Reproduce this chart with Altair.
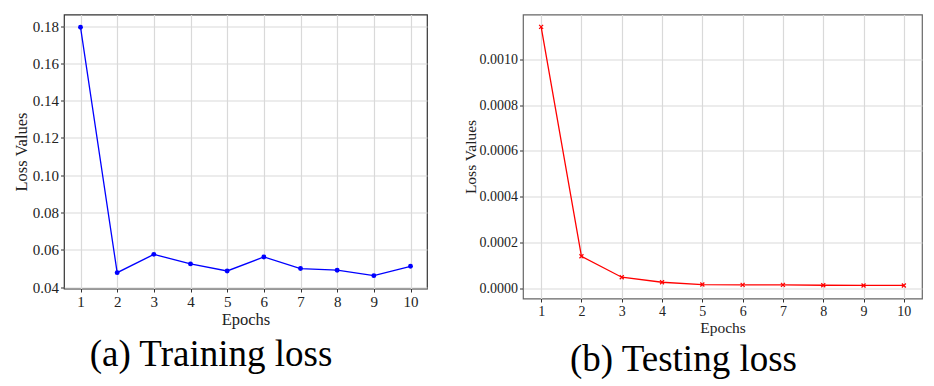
import altair as alt
import pandas as pd

epochs = [1, 2, 3, 4, 5, 6, 7, 8, 9, 10]
train_loss = [0.1794, 0.0478, 0.0576, 0.0525, 0.0487, 0.0562, 0.0500, 0.0491, 0.0462, 0.0512]
test_loss = [0.001142, 0.0001395, 0.000048, 0.000026, 0.000016, 0.0000145,
             0.0000145, 0.000013, 0.000012, 0.000012]
train_yticks = [0.04, 0.06, 0.08, 0.10, 0.12, 0.14, 0.16, 0.18]
test_yticks = [0.0, 0.0002, 0.0004, 0.0006, 0.0008, 0.0010]
x_label = "Epochs"
y_label = "Loss Values"
captions = ["(a) Training loss", "(b) Testing loss"]

FONT = "Liberation Serif"
df_train = pd.DataFrame({"epoch": epochs, "loss": train_loss})
df_test = pd.DataFrame({"epoch": epochs, "loss": test_loss})


def panel(df, color, yticks, yfmt, ydomain, width, height, fs_tick, fs_title,
          caption, cap_dx, cap_offset, frame_color, point_kwargs, ytitle_pad):
    x = alt.X("epoch:Q", scale=alt.Scale(domain=[0.55, 10.45], nice=False, zero=False),
              axis=alt.Axis(values=epochs, format="d", title=x_label, grid=True,
                            gridColor="#d9d9d9", gridWidth=1.2, domain=False,
                            tickSize=3.5, tickColor="#333", labelPadding=2,
                            labelFont=FONT, labelFontSize=fs_tick, labelColor="#222",
                            titleFont=FONT, titleFontSize=fs_title, titleFontWeight="normal",
                            titleColor="#222", titlePadding=2))
    y = alt.Y("loss:Q", scale=alt.Scale(domain=ydomain, nice=False, zero=False),
              axis=alt.Axis(values=yticks, format=yfmt, title=y_label, grid=True,
                            gridColor="#d9d9d9", gridWidth=1.2, domain=False,
                            tickSize=3.5, tickColor="#333", labelPadding=2,
                            labelFont=FONT, labelFontSize=fs_tick, labelColor="#222",
                            titleFont=FONT, titleFontSize=fs_title, titleFontWeight="normal",
                            titleColor="#222", titlePadding=ytitle_pad))
    base = alt.Chart(df).encode(x=x, y=y)
    line = base.mark_line(color=color, strokeWidth=1.3)
    pts = base.mark_point(color=color, opacity=1, **point_kwargs)
    return (line + pts).properties(
        width=width, height=height,
        view=alt.ViewBackground(stroke=frame_color, strokeWidth=1.2),
        title=alt.TitleParams(caption, orient="bottom", anchor="middle", frame="group",
                              font=FONT, fontSize=37, fontWeight="normal", color="#000",
                              baseline="alphabetic", dx=cap_dx, offset=cap_offset),
    )


left = panel(df_train, "#0000ff", train_yticks, ".2f", [0.0393, 0.1862], 363, 274, 15, 16.5,
             captions[0], -34.5, 38, "#333",
             dict(filled=True, shape="circle", size=24), 3)
right = panel(df_test, "#ff0000", test_yticks, ".4f", [-0.000045, 0.0011964], 399, 284, 14, 15.5,
              captions[1], -39, 35, "#666",
              dict(filled=False, shape="M-1,-1L1,1M-1,1L1,-1", size=16, strokeWidth=1.2), 1)

chart = alt.hconcat(left, right, spacing=34).properties(
    padding={"left": 4, "top": 5.5, "right": 0, "bottom": 0},
    background="white",
)

chart.save("out.html", embed_options={"renderer": "svg", "actions": False})
